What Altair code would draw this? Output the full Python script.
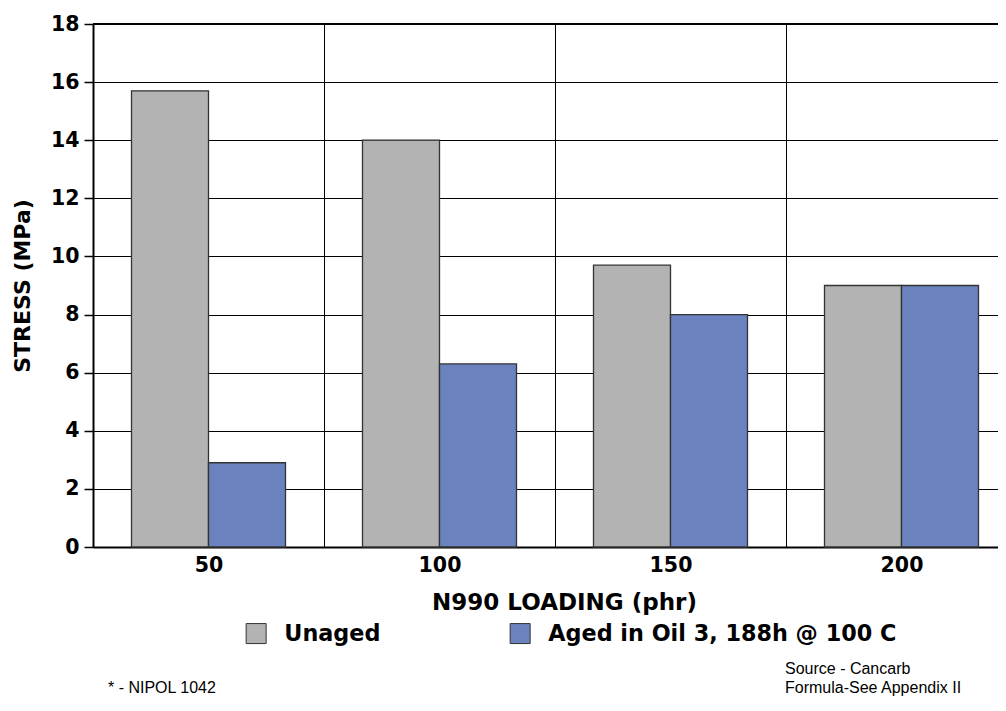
import altair as alt
import pandas as pd

categories = ["50", "100", "150", "200"]
unaged = [15.7, 14.0, 9.7, 9.0]
aged = [2.9, 6.3, 8.0, 9.0]
series_names = ["Unaged", "Aged in Oil 3, 188h @ 100 C"]
series_colors = ["#b3b3b3", "#6a82be"]
y_ticks = [i / 2 for i in range(37)]

rows = []
for c, u, a in zip(categories, unaged, aged):
    rows.append({"loading": c, "series": series_names[0], "stress": u})
    rows.append({"loading": c, "series": series_names[1], "stress": a})
df = pd.DataFrame(rows)

BOLD = "DejaVu Sans"
W, H = 924, 523

bars = alt.Chart(df).mark_bar(stroke="#333333", strokeWidth=1.3).encode(
    x=alt.X(
        "loading:N",
        sort=categories,
        scale=alt.Scale(paddingInner=0, paddingOuter=0),
        axis=alt.Axis(
            title="N990 LOADING (phr)",
            labelAngle=0,
            ticks=False,
            tickBand="extent",
            grid=True,
            gridColor="black",
            gridWidth=1,
            domainColor="black",
            domainWidth=2,
            labelFont=BOLD,
            labelFontWeight="bold",
            labelFontSize=20.5,
            labelColor="black",
            labelPadding=8,
            titleFont=BOLD,
            titleFontWeight="bold",
            titleFontSize=23,
            titleColor="black",
            titleX=471,
            titleY=55,
            titleBaseline="middle",
            titleAlign="center",
        ),
    ),
    xOffset=alt.XOffset(
        "series:N",
        sort=series_names,
        scale=alt.Scale(paddingInner=0, paddingOuter=0.5),
    ),
    y=alt.Y(
        "stress:Q",
        scale=alt.Scale(domain=[0, 18], nice=False),
        axis=alt.Axis(
            title="STRESS (MPa)",
            values=y_ticks,
            labelExpr="datum.value % 2 === 0 ? datum.label : ''",
            grid=True,
            gridColor="black",
            gridWidth=1,
            gridOpacity={"condition": {"test": "datum.value % 2 === 0", "value": 1}, "value": 0},
            tickSize={"condition": {"test": "datum.value % 2 === 0", "value": 9}, "value": 4},
            tickWidth=1.5,
            tickColor="black",
            domainColor="black",
            domainWidth=2,
            labelFont=BOLD,
            labelFontWeight="bold",
            labelFontSize=20.5,
            labelColor="black",
            labelPadding=5,
            titleFont=BOLD,
            titleFontWeight="bold",
            titleFontSize=22,
            titleColor="black",
            titleAngle=-90,
            titleX=-71,
            titleY=H / 2,
            titleBaseline="middle",
            titleAlign="center",
        ),
    ),
    color=alt.Color(
        "series:N",
        sort=series_names,
        scale=alt.Scale(domain=series_names, range=series_colors),
        legend=alt.Legend(
            title=None,
            orient="none",
            direction="horizontal",
            legendX=152,
            legendY=598,
            symbolType="square",
            symbolSize=400,
            symbolStrokeColor="#333333",
            symbolStrokeWidth=1,
            symbolOpacity=1,
            labelFont=BOLD,
            labelFontWeight="bold",
            labelFontSize=22.3,
            labelColor="black",
            labelOffset=17,
            columnPadding=127,
            labelLimit=500,
        ),
    ),
)

top_line = alt.Chart(pd.DataFrame({"v": [18]})).mark_rule(color="black", strokeWidth=2).encode(
    y=alt.Y("v:Q"),
    x=alt.value(0),
    x2=alt.value(W),
)

note_font = "Liberation Sans"
note1 = alt.Chart(pd.DataFrame({"t": ["* - NIPOL 1042"]})).mark_text(
    align="left", baseline="middle", font=note_font, fontSize=16, color="black"
).encode(text="t:N", x=alt.value(15), y=alt.value(664))
note2 = alt.Chart(pd.DataFrame({"t": ["Source - Cancarb"]})).mark_text(
    align="left", baseline="middle", font=note_font, fontSize=16, color="black"
).encode(text="t:N", x=alt.value(692), y=alt.value(645))
note3 = alt.Chart(pd.DataFrame({"t": ["Formula-See Appendix II"]})).mark_text(
    align="left", baseline="middle", font=note_font, fontSize=16, color="black"
).encode(text="t:N", x=alt.value(692), y=alt.value(664))

chart = alt.layer(bars, top_line, note1, note2, note3).properties(
    width=W,
    height=H,
    autosize=alt.AutoSizeParams(type="none"),
    padding={"left": 85, "top": 16, "right": -19, "bottom": 151},
).configure_view(stroke=None).configure(background="white")

chart.save("out.html", embed_options={"renderer": "svg", "actions": False})
